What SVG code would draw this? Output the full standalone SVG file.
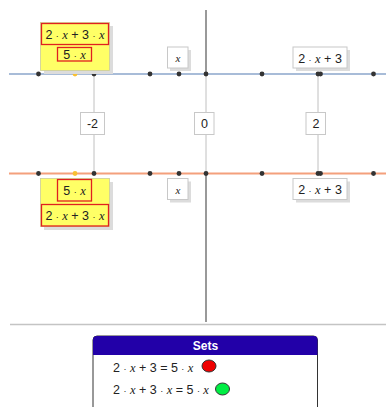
<svg xmlns="http://www.w3.org/2000/svg" width="386" height="407" viewBox="0 0 386 407">
<style>
.t{font-family:"Liberation Sans",Arial,sans-serif;font-size:12.5px;fill:#222;text-anchor:middle}
.v{font-family:"Liberation Serif","Times New Roman",serif;font-style:italic}
.d{font-size:9px}
.box{fill:#fff;stroke:#c8c8c8;stroke-width:1}
.sh{fill:#dcdcdc}
.red{fill:none;stroke:#e02020;stroke-width:1.3}
.yel{fill:#ffff66;stroke:#cccc99;stroke-width:0.8}
.dot{fill:#333}
.ydot{fill:#f8c030}
</style>
<rect width="386" height="407" fill="#fff"/>
<g id="connectors">
<line x1="206" y1="10" x2="206" y2="74" stroke="#555" stroke-width="1.2"/>
<line x1="206" y1="173" x2="206" y2="322" stroke="#555" stroke-width="1.2"/>
<line x1="94" y1="74" x2="94" y2="173" stroke="#c0c0c0" stroke-width="1"/>
<line x1="206" y1="74" x2="206" y2="173" stroke="#c0c0c0" stroke-width="1"/>
<line x1="318" y1="74" x2="318" y2="173" stroke="#c0c0c0" stroke-width="1"/>
<line x1="9" y1="74" x2="386" y2="74" stroke="#a8bcd8" stroke-width="2"/>
<line x1="9" y1="173.5" x2="386" y2="173.5" stroke="#f4a07c" stroke-width="2"/>
<line x1="10" y1="324.5" x2="386" y2="324.5" stroke="#c4c4c4" stroke-width="1.5"/>
</g>
<g id="dots-top">
<circle class="dot" cx="38.5" cy="74" r="2.4"/>
<circle class="dot" cx="94" cy="74" r="2.4"/>
<circle class="dot" cx="150" cy="74" r="2.4"/>
<circle class="dot" cx="179" cy="74" r="2.4"/>
<circle class="dot" cx="206" cy="74" r="2.4"/>
<circle class="dot" cx="262" cy="74" r="2.4"/>
<circle class="dot" cx="318" cy="74" r="2.4"/>
<circle class="dot" cx="320.5" cy="74" r="2.4"/>
<circle class="dot" cx="373.5" cy="74" r="2.4"/>
<circle class="ydot" cx="75" cy="74" r="2.4"/>
</g>
<g id="dots-bottom">
<circle class="dot" cx="38.5" cy="173.5" r="2.4"/>
<circle class="dot" cx="94" cy="173.5" r="2.4"/>
<circle class="dot" cx="150" cy="173.5" r="2.4"/>
<circle class="dot" cx="179" cy="173.5" r="2.4"/>
<circle class="dot" cx="206" cy="173.5" r="2.4"/>
<circle class="dot" cx="262" cy="173.5" r="2.4"/>
<circle class="dot" cx="318" cy="173.5" r="2.4"/>
<circle class="dot" cx="320.5" cy="173.5" r="2.4"/>
<circle class="dot" cx="373.5" cy="173.5" r="2.4"/>
<circle class="ydot" cx="75" cy="173.5" r="2.4"/>
</g>
<g id="top-yellow">
<rect class="sh" x="44" y="26" width="69" height="48"/>
<rect class="yel" x="40.5" y="22.5" width="69" height="48"/>
<rect class="red" x="41.5" y="23.5" width="67" height="21"/>
<text class="t" x="75" y="39">2 <tspan class="d">·</tspan> <tspan class="v">x</tspan> + 3 <tspan class="d">·</tspan> <tspan class="v">x</tspan></text>
<rect class="red" x="57.5" y="47.5" width="34" height="13.5"/>
<text class="t" x="74.5" y="59">5 <tspan class="d">·</tspan> <tspan class="v">x</tspan></text>
</g>
<g id="top-x">
<rect class="sh" x="170" y="50" width="21" height="21"/>
<rect class="box" x="167.5" y="47" width="20.5" height="21"/>
<text class="t" x="178" y="62"><tspan class="v" font-size="11">x</tspan></text>
</g>
<g id="top-2x3">
<rect class="sh" x="296" y="50" width="54" height="21"/>
<rect class="box" x="293" y="47" width="54" height="21"/>
<text class="t" x="320" y="62.5">2 <tspan class="d">·</tspan> <tspan class="v">x</tspan> + 3</text>
</g>
<g id="label-m2">
<rect class="box" x="80.5" y="112.5" width="24" height="22"/>
<text class="t" x="92.5" y="128">-2</text>
</g>
<g id="label-0">
<rect class="box" x="194.5" y="112.5" width="19.5" height="22"/>
<text class="t" x="204.5" y="128">0</text>
</g>
<g id="label-2">
<rect class="box" x="306" y="112.5" width="19.5" height="22"/>
<text class="t" x="316" y="128">2</text>
</g>
<g id="bottom-yellow">
<rect class="sh" x="44" y="182" width="69" height="48"/>
<rect class="yel" x="40.5" y="178.5" width="69" height="48"/>
<rect class="red" x="57.5" y="179.5" width="34" height="21.5"/>
<text class="t" x="74.5" y="195">5 <tspan class="d">·</tspan> <tspan class="v">x</tspan></text>
<rect class="red" x="41.5" y="204.5" width="67" height="21.5"/>
<text class="t" x="75" y="220">2 <tspan class="d">·</tspan> <tspan class="v">x</tspan> + 3 <tspan class="d">·</tspan> <tspan class="v">x</tspan></text>
</g>
<g id="bottom-x">
<rect class="sh" x="170" y="181.5" width="21" height="21"/>
<rect class="box" x="167.5" y="178.5" width="20.5" height="21"/>
<text class="t" x="178" y="193.5"><tspan class="v" font-size="11">x</tspan></text>
</g>
<g id="bottom-2x3">
<rect class="sh" x="296" y="181.5" width="54" height="21"/>
<rect class="box" x="293" y="178.5" width="54" height="21"/>
<text class="t" x="320" y="194">2 <tspan class="d">·</tspan> <tspan class="v">x</tspan> + 3</text>
</g>
<g id="sets-panel">
<rect x="93" y="336" width="224.5" height="76" rx="4" fill="#fff" stroke="#333" stroke-width="1"/>
<path d="M93 355 V340 a4 4 0 0 1 4 -4 H313.5 a4 4 0 0 1 4 4 V355 Z" fill="#2200a8"/>
<text x="205.5" y="350" font-family="Liberation Sans,Arial,sans-serif" font-size="12" font-weight="bold" fill="#fff" text-anchor="middle">Sets</text>
<text class="t" x="113" y="372" style="text-anchor:start">2 <tspan class="d">·</tspan> <tspan class="v">x</tspan> + 3 = 5 <tspan class="d">·</tspan> <tspan class="v">x</tspan></text>
<ellipse cx="209" cy="366" rx="7" ry="6" fill="#ee0000" stroke="#333" stroke-width="1"/>
<text class="t" x="113" y="394" style="text-anchor:start">2 <tspan class="d">·</tspan> <tspan class="v">x</tspan> + 3 <tspan class="d">·</tspan> <tspan class="v">x</tspan> = 5 <tspan class="d">·</tspan> <tspan class="v">x</tspan></text>
<ellipse cx="222.5" cy="389" rx="7" ry="6" fill="#00ee44" stroke="#333" stroke-width="1"/>
</g>
</svg>
